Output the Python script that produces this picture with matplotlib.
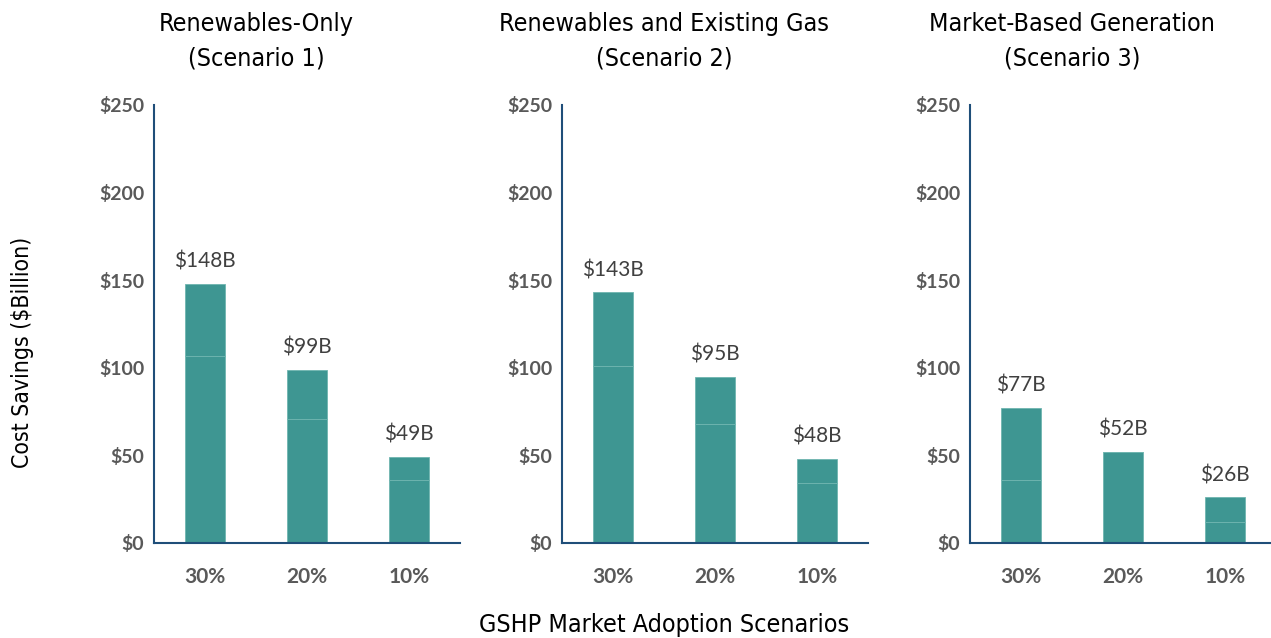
import numpy as np
import matplotlib.pyplot as plt

# data
categories = ['30%', '20%', '10%']
titles = ['Renewables-Only\n(Scenario 1)',
          'Renewables and Existing Gas\n(Scenario 2)',
          'Market-Based Generation\n(Scenario 3)']
totals = [[148, 99, 49], [143, 95, 48], [77, 52, 26]]
lower = [[107, 71, 36], [101, 68, 34], [36, 52, 12]]
yticks = [0, 50, 100, 150, 200, 250]

bar_color = '#3e9692'
spine_color = '#1f4e79'

fig = plt.figure(figsize=(12.71, 6.38), dpi=100)
lefts = [154, 562, 970]
for k in range(3):
    ax = fig.add_axes([lefts[k] / 1271, 1 - 543 / 638, 306 / 1271, 438 / 638])
    x = np.arange(3)
    upper = np.array(totals[k]) - np.array(lower[k])
    ax.bar(x, lower[k], width=0.4, color=bar_color, edgecolor='#6fb5b0', linewidth=0.6)
    ax.bar(x, upper, bottom=lower[k], width=0.4, color=bar_color, edgecolor='#6fb5b0', linewidth=0.6)
    for i, v in enumerate(totals[k]):
        ax.text(x[i], v + 7, '$%dB' % v, ha='center', va='bottom', fontsize=15,
                family='Lato', color='#404040')
    ax.set_xlim(-0.5, 2.5)
    ax.set_ylim(0, 250)
    ax.set_xticks(x)
    ax.set_xticklabels(categories)
    ax.set_yticks(yticks)
    ax.set_yticklabels(['$%d' % t for t in yticks])
    for lab in ax.get_xticklabels():
        lab.set_family('Lato')
        lab.set_fontweight('bold')
        lab.set_fontsize(15)
        lab.set_color('#595959')
    for lab in ax.get_yticklabels():
        lab.set_family('Lato')
        lab.set_fontweight('bold')
        lab.set_fontsize(14)
        lab.set_color('#595959')
    ax.tick_params(axis='x', length=0, pad=17)
    ax.tick_params(axis='y', length=0, pad=7)
    ax.spines['top'].set_visible(False)
    ax.spines['right'].set_visible(False)
    for s in ['left', 'bottom']:
        ax.spines[s].set_color(spine_color)
        ax.spines[s].set_linewidth(1.5)
    ax.text(0.333, 1.146, titles[k], transform=ax.transAxes, ha='center', va='center',
            fontsize=18, family='DejaVu Sans', stretch='condensed', linespacing=1.55)

fig.text(22 / 1271, 1 - 352 / 638, 'Cost Savings ($Billion)', rotation=90, ha='center', va='center',
         fontsize=16.5, family='DejaVu Sans', stretch='condensed')
fig.text(664 / 1271, 1 - 625 / 638, 'GSHP Market Adoption Scenarios', ha='center', va='center',
         fontsize=18, family='DejaVu Sans', stretch='condensed')

fig.savefig('out.png', dpi=100)
